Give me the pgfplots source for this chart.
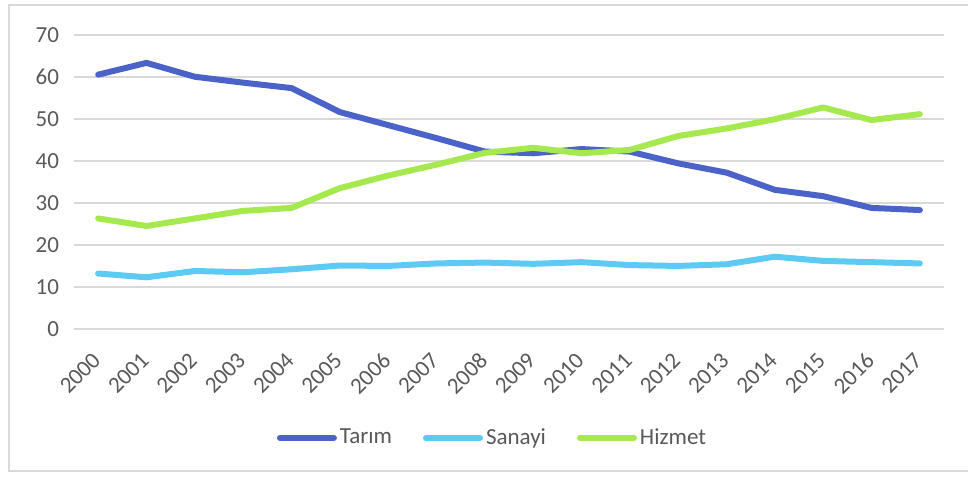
\documentclass[border=0pt]{standalone}
\usepackage{pgfplots}
\pgfplotsset{compat=1.18}
\usepackage{fontspec}
\setmainfont{Carlito}
\definecolor{tarim}{HTML}{4B63C8}
\definecolor{sanayi}{HTML}{5CCAF2}
\definecolor{hizmet}{HTML}{A6E94F}
\definecolor{gridc}{HTML}{D9D9D9}
\definecolor{txt}{HTML}{595959}
\begin{document}
\begin{tikzpicture}
\useasboundingbox (0,0) rectangle (484pt,238.5pt);
\draw[gridc, line width=0.8pt] (484pt,236pt) -- (4.5pt,236pt) -- (4.5pt,3pt) -- (484pt,3pt);
\begin{axis}[
  at={(37pt,74pt)}, anchor=south west,
  scale only axis, width=435pt, height=147.15pt,
  xmin=-0.5, xmax=17.5, ymin=0, ymax=70,
  ytick={0,10,...,70},
  xtick={0,...,17},
  xticklabels={2000,2001,2002,2003,2004,2005,2006,2007,2008,2009,2010,2011,2012,2013,2014,2015,2016,2017},
  axis line style={draw=none},
  major tick length=0pt,
  ymajorgrids, grid style={gridc, line width=0.8pt},
  tick label style={font=\fontsize{11.5}{13}\selectfont, text=txt},
  /pgf/number format/assume math mode=true,
  yticklabel style={xshift=-4pt},
  xticklabel style={xshift=-3.5pt, yshift=-9.5pt, rotate=45, anchor=north east, inner sep=1pt},
  legend style={at={(0.5,-0.37)}, anchor=center, xshift=-8pt, draw=none, legend columns=3,
    font=\fontsize{11.5}{13}\selectfont, text=txt,
    nodes={inner sep=1.5pt},
    /tikz/every even column/.append style={column sep=14pt}},
  legend image code/.code={\draw[#1, line cap=round] (0pt,0pt) -- (27pt,0pt);},
  every axis plot/.append style={line width=3pt, line join=round, line cap=round, mark=none},
]
\addplot[tarim] coordinates {(0,60.5)(1,63.3)(2,60.0)(3,58.6)(4,57.3)(5,51.6)(6,48.5)(7,45.4)(8,42.2)(9,41.8)(10,42.8)(11,42.2)(12,39.4)(13,37.2)(14,33.1)(15,31.6)(16,28.8)(17,28.3)};
\addplot[sanayi] coordinates {(0,13.2)(1,12.3)(2,13.8)(3,13.5)(4,14.2)(5,15.1)(6,15.0)(7,15.6)(8,15.8)(9,15.5)(10,15.9)(11,15.2)(12,15.0)(13,15.4)(14,17.2)(15,16.2)(16,15.9)(17,15.6)};
\addplot[hizmet] coordinates {(0,26.3)(1,24.5)(2,26.3)(3,28.1)(4,28.8)(5,33.5)(6,36.5)(7,39.1)(8,41.9)(9,43.1)(10,41.8)(11,42.6)(12,45.9)(13,47.7)(14,49.9)(15,52.7)(16,49.7)(17,51.1)};
\legend{Tarım,Sanayi,Hizmet}
\end{axis}
\end{tikzpicture}
\end{document}
